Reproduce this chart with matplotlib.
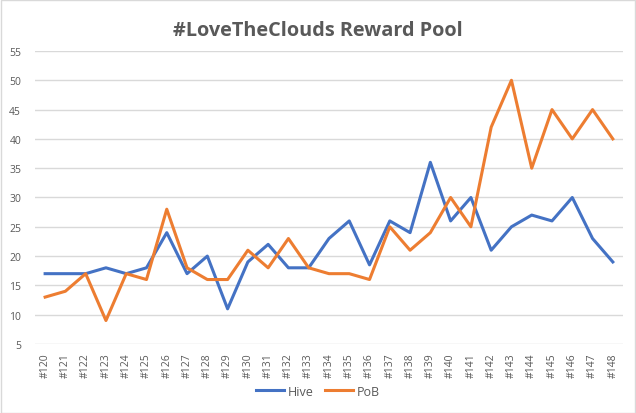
import matplotlib.pyplot as plt

rounds = ["#" + str(n) for n in range(120, 149)]
hive = [17, 17, 17, 18, 17, 18, 24, 17, 20, 11, 19, 22, 18, 18, 23, 26, 18.5,
        26, 24, 36, 26, 30, 21, 25, 27, 26, 30, 23, 19]
pob = [13, 14, 17, 9, 17, 16, 28, 18, 16, 16, 21, 18, 23, 18, 17, 17, 16,
       25, 21, 24, 30, 25, 42, 50, 35, 45, 40, 45, 40]

plt.rcParams['font.family'] = ['Open Sans', 'DejaVu Sans']
text_col = '#595959'

fig = plt.figure(figsize=(6.36, 4.14), dpi=100)
ax = fig.add_axes([0.055, 0.1667, 0.9245, 0.7077])

x = range(len(rounds))
ax.plot(x, hive, color='#4472C4', lw=2.2, label='Hive', solid_joinstyle='round')
ax.plot(x, pob, color='#ED7D31', lw=2.2, label='PoB', solid_joinstyle='round')

ax.set_xlim(-0.5, len(rounds) - 0.5)
ax.set_ylim(5, 55)
ax.set_yticks(range(5, 56, 5))
ax.set_xticks(list(x))
ax.set_xticklabels(rounds, rotation=90, fontsize=7.5, color=text_col)
ax.tick_params(axis='y', labelsize=7.5, labelcolor=text_col, length=0, pad=10)
ax.tick_params(axis='x', length=0, pad=6)
ax.grid(axis='y', color='#D9D9D9', lw=1)
ax.set_axisbelow(True)
for s in ax.spines.values():
    s.set_visible(False)

fig.suptitle("#LoveTheClouds Reward Pool", y=0.95, fontsize=14.3,
             fontweight='bold', color=text_col)
fig.legend(loc='center', bbox_to_anchor=(0.5, 0.053), ncol=2, frameon=False,
           fontsize=9, labelcolor=text_col, handlelength=2.2, columnspacing=0.9,
           handletextpad=0.35)

fig.patches.append(plt.Rectangle((0.001, 0.001), 0.997, 0.997, transform=fig.transFigure,
                                 fill=False, edgecolor='#D9D9D9', lw=1))

fig.savefig('out.png', dpi=100)
